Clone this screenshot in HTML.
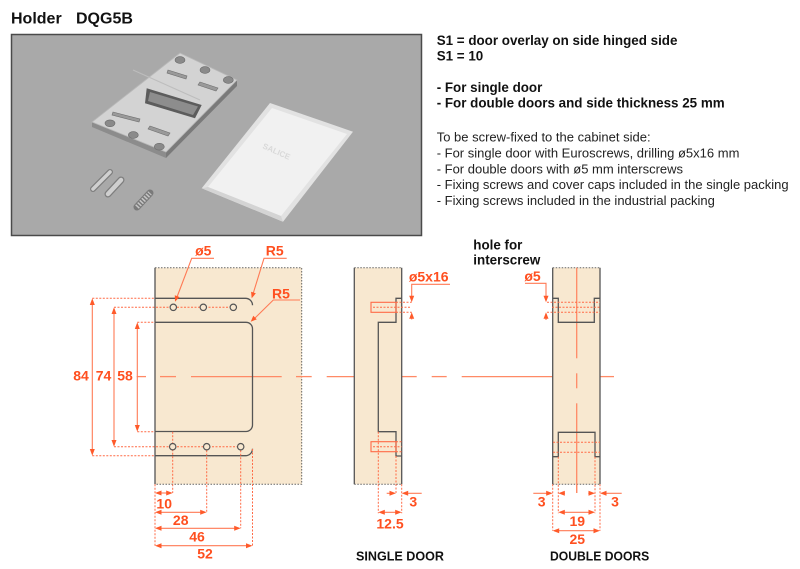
<!DOCTYPE html>
<html><head><meta charset="utf-8"><style>
html,body{margin:0;padding:0;background:#fff;}
svg{display:block;}
.o{fill:#ff4f1f;font-family:"Liberation Sans",sans-serif;font-weight:bold;font-size:14px;}
.k{fill:#111;font-family:"Liberation Sans",sans-serif;font-weight:bold;}
.r{fill:#222;font-family:"Liberation Sans",sans-serif;font-size:13px;}
.dl{stroke:#ff7a55;stroke-width:1.1;fill:none;}
.dt{stroke:#ff6a45;stroke-width:1;stroke-dasharray:2 1.5;fill:none;}
.cl{stroke:#ff8a66;stroke-width:1.3;fill:none;}
.pl{stroke:#555;stroke-width:1.3;fill:none;}
.pd{stroke:#666;stroke-width:1;stroke-dasharray:1.5 1.5;fill:none;}
.ar{fill:#ff5a2a;}
</style></head><body>
<svg width="800" height="569" viewBox="0 0 800 569" xmlns="http://www.w3.org/2000/svg">
<!-- Title -->
<text class="k" x="11" y="23.3" font-size="16">Holder</text>
<text class="k" x="76" y="23.3" font-size="16">DQG5B</text>

<!-- Photo -->
<rect x="11.5" y="34.5" width="410" height="201" fill="#a9a9a9" stroke="#4a4a4a" stroke-width="1.5"/>
<!-- plate sides -->
<polygon points="92,122 166,152 166,158 92,127" fill="#8c8c8c"/>
<polygon points="166,152 237,80 237,86 166,158" fill="#7a7a7a"/>
<!-- plate face -->
<polygon points="180,53 237,80 166,152 92,122" fill="#d3d3d3" stroke="#b8b8b8" stroke-width="0.8"/>
<line x1="133" y1="70" x2="200" y2="100" stroke="#bdbdbd" stroke-width="1"/>
<!-- central hole -->
<polygon points="146.7,88.3 201.7,105 195,118.3 145,103.3" fill="#5c5c5c"/>
<polygon points="150,92 198,106.5 193,115 148,101" fill="#8d8d8d"/>
<!-- countersunk holes -->
<g fill="#8a8a8a" stroke="#6a6a6a" stroke-width="0.6">
<ellipse cx="180" cy="60" rx="5" ry="3.4"/>
<ellipse cx="205" cy="70" rx="5" ry="3.4"/>
<ellipse cx="228.3" cy="80" rx="5" ry="3.4"/>
<ellipse cx="110" cy="123.3" rx="5" ry="3.4"/>
<ellipse cx="133.3" cy="135" rx="5" ry="3.4"/>
<ellipse cx="159.3" cy="146.7" rx="5" ry="3.4"/>
</g>
<g fill="#9a9a9a" stroke="#6e6e6e" stroke-width="0.6">
<polygon points="200,82 218,88 216,91 198,85"/>
<polygon points="150,126 170,133 168,136 148,129"/>
<polygon points="168,70 187,76 186,79 167,73"/>
<polygon points="113,112 140,119 139,122 112,115"/>
</g>
<!-- cover -->
<polygon points="270,103 353,131.7 283,221.7 201.7,188.3" fill="#e2e2e2"/>
<polygon points="272,108 347,134 281,216 208,187" fill="#f1f1f1"/>
<polygon points="201.7,188.3 283,221.7 281,216 208,187" fill="#d4d4d4"/>
<text x="0" y="0" font-family="Liberation Sans,sans-serif" font-weight="bold" font-size="8" fill="#d9d9d9" transform="translate(262,148) rotate(24)">SALICE</text>
<!-- screws -->
<line x1="93" y1="189" x2="110" y2="172" stroke="#7e7e7e" stroke-width="6" stroke-linecap="round"/>
<line x1="93" y1="189" x2="110" y2="172" stroke="#d0d0d0" stroke-width="3.5" stroke-linecap="round"/>
<line x1="108" y1="194" x2="121" y2="180" stroke="#7e7e7e" stroke-width="7" stroke-linecap="round"/>
<line x1="108" y1="194" x2="121" y2="180" stroke="#cfcfcf" stroke-width="4.5" stroke-linecap="round"/>
<line x1="137" y1="207" x2="150" y2="193" stroke="#7a7a7a" stroke-width="7" stroke-linecap="round"/>
<line x1="137" y1="207" x2="150" y2="193" stroke="#c6c6c6" stroke-width="5" stroke-dasharray="1.5 1.5"/>

<!-- Right text -->
<text class="k" x="436.7" y="45" font-size="13.4">S1 = door overlay on side hinged side</text>
<text class="k" x="436.7" y="60.5" font-size="13.4">S1 = 10</text>
<text class="k" x="436.7" y="92" font-size="13.4">- For single door</text>
<text class="k" x="436.7" y="107.5" font-size="13.4">- For double doors and side thickness 25 mm</text>
<text class="r" x="436.7" y="141.7">To be screw-fixed to the cabinet side:</text>
<text class="r" x="436.7" y="157.5">- For single door with Euroscrews, drilling ø5x16 mm</text>
<text class="r" x="436.7" y="173.3">- For double doors with ø5 mm interscrews</text>
<text class="r" x="436.7" y="189">- Fixing screws and cover caps included in the single packing</text>
<text class="r" x="436.7" y="205">- Fixing screws included in the industrial packing</text>

<!-- ===== LEFT PANEL ===== -->
<rect x="155" y="267.7" width="147" height="216.6" fill="#f8e8d0"/>
<line class="pl" x1="155" y1="267.7" x2="155" y2="484.3"/>
<path class="pd" d="M155,267.7 H301.7 V484.3 H155"/>
<!-- centre line -->
<g class="cl">
<line x1="136.7" y1="376.6" x2="146" y2="376.6"/>
<line x1="160" y1="376.6" x2="176" y2="376.6"/>
<line x1="191" y1="376.6" x2="281.7" y2="376.6"/>
<line x1="296" y1="376.6" x2="311.7" y2="376.6"/>
<line x1="326.7" y1="376.6" x2="354" y2="376.6"/>
<line x1="401.7" y1="376.6" x2="416.7" y2="376.6"/>
<line x1="431.7" y1="376.6" x2="446.7" y2="376.6"/>
<line x1="461.7" y1="376.6" x2="553" y2="376.6"/>
<line x1="600" y1="376.6" x2="614" y2="376.6"/>
<line x1="576.7" y1="267.7" x2="576.7" y2="358.3"/>
<line x1="576.7" y1="373.3" x2="576.7" y2="388.3"/>
<line x1="576.7" y1="403.3" x2="576.7" y2="493"/>
</g>
<!-- plate outline -->
<path class="pl" d="M155,298.3 H245.5 A7,7 0 0 1 252.5,305.3"/>
<path class="pl" d="M155,322.3 H246 A6.5,6.5 0 0 1 252.5,328.8 V425 A6.5,6.5 0 0 1 246,431.5 H155"/>
<path class="pl" d="M155,455.7 H245.5 A7,7 0 0 0 252.5,448.7"/>
<!-- dotted extension lines -->
<g class="dt">
<line x1="92.3" y1="298.3" x2="155" y2="298.3"/>
<line x1="114" y1="307.3" x2="236" y2="307.3"/>
<line x1="137.3" y1="322.3" x2="155" y2="322.3"/>
<line x1="92.3" y1="455.7" x2="155" y2="455.7"/>
<line x1="114" y1="446.7" x2="241" y2="446.7"/>
<line x1="137.3" y1="431.7" x2="155" y2="431.7"/>
<line x1="155" y1="484.3" x2="155" y2="545.7"/>
<line x1="172.7" y1="431.7" x2="172.7" y2="493"/>
<line x1="206.7" y1="446.7" x2="206.7" y2="512.3"/>
<line x1="240.7" y1="446.7" x2="240.7" y2="528.3"/>
<line x1="252.5" y1="449" x2="252.5" y2="545.7"/>
</g>
<!-- holes -->
<g fill="#f8e8d0" stroke="#555" stroke-width="1.2">
<circle cx="173.3" cy="307.3" r="3.2"/><circle cx="203.3" cy="307.3" r="3.2"/><circle cx="233.3" cy="307.3" r="3.2"/>
<circle cx="172.7" cy="446.7" r="3.2"/><circle cx="206.7" cy="446.7" r="3.2"/><circle cx="240.7" cy="446.7" r="3.2"/>
</g>
<!-- vertical dims -->
<g class="dl">
<line x1="92.3" y1="300" x2="92.3" y2="454"/>
<line x1="114" y1="309" x2="114" y2="445"/>
<line x1="137.3" y1="324" x2="137.3" y2="430"/>
<line x1="157" y1="493" x2="171" y2="493"/>
<line x1="157" y1="512.3" x2="205" y2="512.3"/>
<line x1="157" y1="528.3" x2="239" y2="528.3"/>
<line x1="157" y1="545.7" x2="251" y2="545.7"/>
<polyline points="214,258.3 191.7,258.3 177,297"/>
<polyline points="286.7,258.3 264,258.3 253,294"/>
<polyline points="300,300 273.3,300 254,319"/>
</g>
<g class="ar">
<polygon points="92.3,298.3 89.8,305 94.8,305"/><polygon points="92.3,455.7 89.8,449 94.8,449"/>
<polygon points="114,307.3 111.5,314 116.5,314"/><polygon points="114,446.7 111.5,440 116.5,440"/>
<polygon points="137.3,322.3 134.8,329 139.8,329"/><polygon points="137.3,431.7 134.8,425 139.8,425"/>
<polygon points="155,493 161.5,490.5 161.5,495.5"/><polygon points="172.7,493 166.2,490.5 166.2,495.5"/>
<polygon points="155,512.3 161.5,509.8 161.5,514.8"/><polygon points="206.7,512.3 200.2,509.8 200.2,514.8"/>
<polygon points="155,528.3 161.5,525.8 161.5,530.8"/><polygon points="240.7,528.3 234.2,525.8 234.2,530.8"/>
<polygon points="155,545.7 161.5,543.2 161.5,548.2"/><polygon points="252.5,545.7 246,543.2 246,548.2"/>
<polygon points="175,301.7 179.5,297 174.8,295.2"/>
<polygon points="251.7,298.3 255.85,293.3 251.07,291.8"/>
<polygon points="250.7,321.7 256.76,319.34 253.3,315.74"/>
</g>
<text class="o" x="203.3" y="255.7" text-anchor="middle">ø5</text>
<text class="o" x="274.7" y="255.7" text-anchor="middle">R5</text>
<text class="o" x="281" y="298.3" text-anchor="middle">R5</text>
<text class="o" x="81" y="380.7" text-anchor="middle">84</text>
<text class="o" x="103.5" y="380.7" text-anchor="middle">74</text>
<text class="o" x="125" y="380.7" text-anchor="middle">58</text>
<text class="o" x="164.2" y="508.3" text-anchor="middle">10</text>
<text class="o" x="180.7" y="525" text-anchor="middle">28</text>
<text class="o" x="197" y="541.7" text-anchor="middle">46</text>
<text class="o" x="205" y="558.3" text-anchor="middle">52</text>

<!-- ===== SINGLE DOOR ===== -->
<rect x="354.3" y="267.7" width="47.4" height="216.6" fill="#f8e8d0"/>
<line class="pl" x1="354.3" y1="267.7" x2="354.3" y2="484.3"/>
<line class="pl" x1="401.7" y1="267.7" x2="401.7" y2="484.3"/>
<line class="pd" x1="354.3" y1="267.7" x2="401.7" y2="267.7"/>
<line class="pd" x1="354.3" y1="484.3" x2="401.7" y2="484.3"/>
<path class="pl" d="M401.7,298.3 H396 V322.3 H378.3 V431.7 H396 V456 H401.7"/>
<rect x="371" y="302.3" width="25" height="10" fill="none" stroke="#ff6a45" stroke-width="1.1"/>
<rect x="371" y="441.7" width="25" height="10" fill="none" stroke="#ff6a45" stroke-width="1.1"/>
<g class="dt">
<line x1="396" y1="302.3" x2="411.7" y2="302.3"/>
<line x1="396" y1="312.3" x2="411.7" y2="312.3"/>
<line x1="373" y1="307.3" x2="410" y2="307.3"/>
<line x1="396" y1="441.7" x2="401.7" y2="441.7"/>
<line x1="396" y1="451.7" x2="401.7" y2="451.7"/>
<line x1="373" y1="446.7" x2="401.7" y2="446.7"/>
<line x1="378.3" y1="431.7" x2="378.3" y2="513.3"/>
<line x1="396" y1="456" x2="396" y2="493.3"/>
<line x1="401.7" y1="484.3" x2="401.7" y2="513.3"/>
</g>
<g class="dl">
<polyline points="450,284.3 411.7,284.3 411.7,297"/>
<line x1="411.7" y1="317" x2="411.7" y2="319.5"/>
<line x1="386.7" y1="493.3" x2="390" y2="493.3"/>
<line x1="408" y1="493.3" x2="421.7" y2="493.3"/>
<line x1="380" y1="512.3" x2="400" y2="512.3"/>
</g>
<g class="ar">
<polygon points="411.7,302.3 409.2,295.8 414.2,295.8"/>
<polygon points="411.7,312.3 409.2,318.8 414.2,318.8"/>
<polygon points="396,493.3 389.5,490.8 389.5,495.8"/>
<polygon points="401.7,493.3 408.2,490.8 408.2,495.8"/>
<polygon points="378.3,512.3 384.8,509.8 384.8,514.8"/>
<polygon points="401.7,512.3 395.2,509.8 395.2,514.8"/>
</g>
<text class="o" x="428.7" y="281.7" text-anchor="middle">ø5x16</text>
<text class="o" x="413.3" y="506.7" text-anchor="middle">3</text>
<text class="o" x="390" y="528.3" text-anchor="middle">12.5</text>
<text class="k" x="356" y="560.7" font-size="12.6" textLength="88" lengthAdjust="spacingAndGlyphs">SINGLE DOOR</text>

<!-- ===== DOUBLE DOORS ===== -->
<text class="k" x="473.3" y="249.3" font-size="13.4">hole for</text>
<text class="k" x="473.3" y="264.3" font-size="13.4">interscrew</text>
<rect x="552.7" y="267.7" width="47.3" height="216.6" fill="#f8e8d0"/>
<line class="pl" x1="552.7" y1="267.7" x2="552.7" y2="484.3"/>
<line class="pl" x1="600" y1="267.7" x2="600" y2="484.3"/>
<line class="pd" x1="552.7" y1="267.7" x2="600" y2="267.7"/>
<line class="pd" x1="552.7" y1="484.3" x2="600" y2="484.3"/>
<g class="cl">
<line x1="576.7" y1="267.7" x2="576.7" y2="358.3"/>
<line x1="576.7" y1="373.3" x2="576.7" y2="388.3"/>
<line x1="576.7" y1="403.3" x2="576.7" y2="493"/>
</g>
<path class="pl" d="M552.7,298.3 H558.3 V322.3 H594.3 V298.3 H600"/>
<path class="pl" d="M552.7,456.7 H558.3 V432.3 H595 V456.7 H600"/>
<g class="dt">
<line x1="547" y1="302.3" x2="600" y2="302.3"/>
<line x1="552" y1="307.3" x2="600" y2="307.3"/>
<line x1="547" y1="312.3" x2="600" y2="312.3"/>
<line x1="553" y1="442.3" x2="600" y2="442.3"/>
<line x1="553" y1="452.3" x2="600" y2="452.3"/>
<line x1="552.7" y1="484.3" x2="552.7" y2="530.7"/>
<line x1="558.3" y1="456.7" x2="558.3" y2="513.3"/>
<line x1="595" y1="456.7" x2="595" y2="513.3"/>
<line x1="600" y1="484.3" x2="600" y2="530.7"/>
</g>
<g class="dl">
<polyline points="525,283.3 546,283.3 546,297"/>
<line x1="546" y1="317" x2="546" y2="320"/>
<line x1="533.3" y1="493.3" x2="547" y2="493.3"/>
<line x1="564" y1="493.3" x2="565" y2="493.3"/>
<line x1="588.3" y1="493.3" x2="589" y2="493.3"/>
<line x1="606" y1="493.3" x2="621.7" y2="493.3"/>
<line x1="560" y1="512.3" x2="593" y2="512.3"/>
<line x1="554" y1="530.7" x2="598" y2="530.7"/>
</g>
<g class="ar">
<polygon points="546,302.3 543.5,295.8 548.5,295.8"/>
<polygon points="546,312.3 543.5,318.8 548.5,318.8"/>
<polygon points="552.7,493.3 546.2,490.8 546.2,495.8"/>
<polygon points="558.3,493.3 564.8,490.8 564.8,495.8"/>
<polygon points="595,493.3 588.5,490.8 588.5,495.8"/>
<polygon points="600,493.3 606.5,490.8 606.5,495.8"/>
<polygon points="558.3,512.3 564.8,509.8 564.8,514.8"/>
<polygon points="595,512.3 588.5,509.8 588.5,514.8"/>
<polygon points="552.7,530.7 559.2,528.2 559.2,533.2"/>
<polygon points="600,530.7 593.5,528.2 593.5,533.2"/>
</g>
<text class="o" x="532.5" y="281" text-anchor="middle">ø5</text>
<text class="o" x="541.7" y="506.7" text-anchor="middle">3</text>
<text class="o" x="615" y="506.7" text-anchor="middle">3</text>
<text class="o" x="577.3" y="526" text-anchor="middle">19</text>
<text class="o" x="577.3" y="544" text-anchor="middle">25</text>
<text class="k" x="550" y="560.7" font-size="12.6" textLength="99.3" lengthAdjust="spacingAndGlyphs">DOUBLE DOORS</text>
</svg>
</body></html>
